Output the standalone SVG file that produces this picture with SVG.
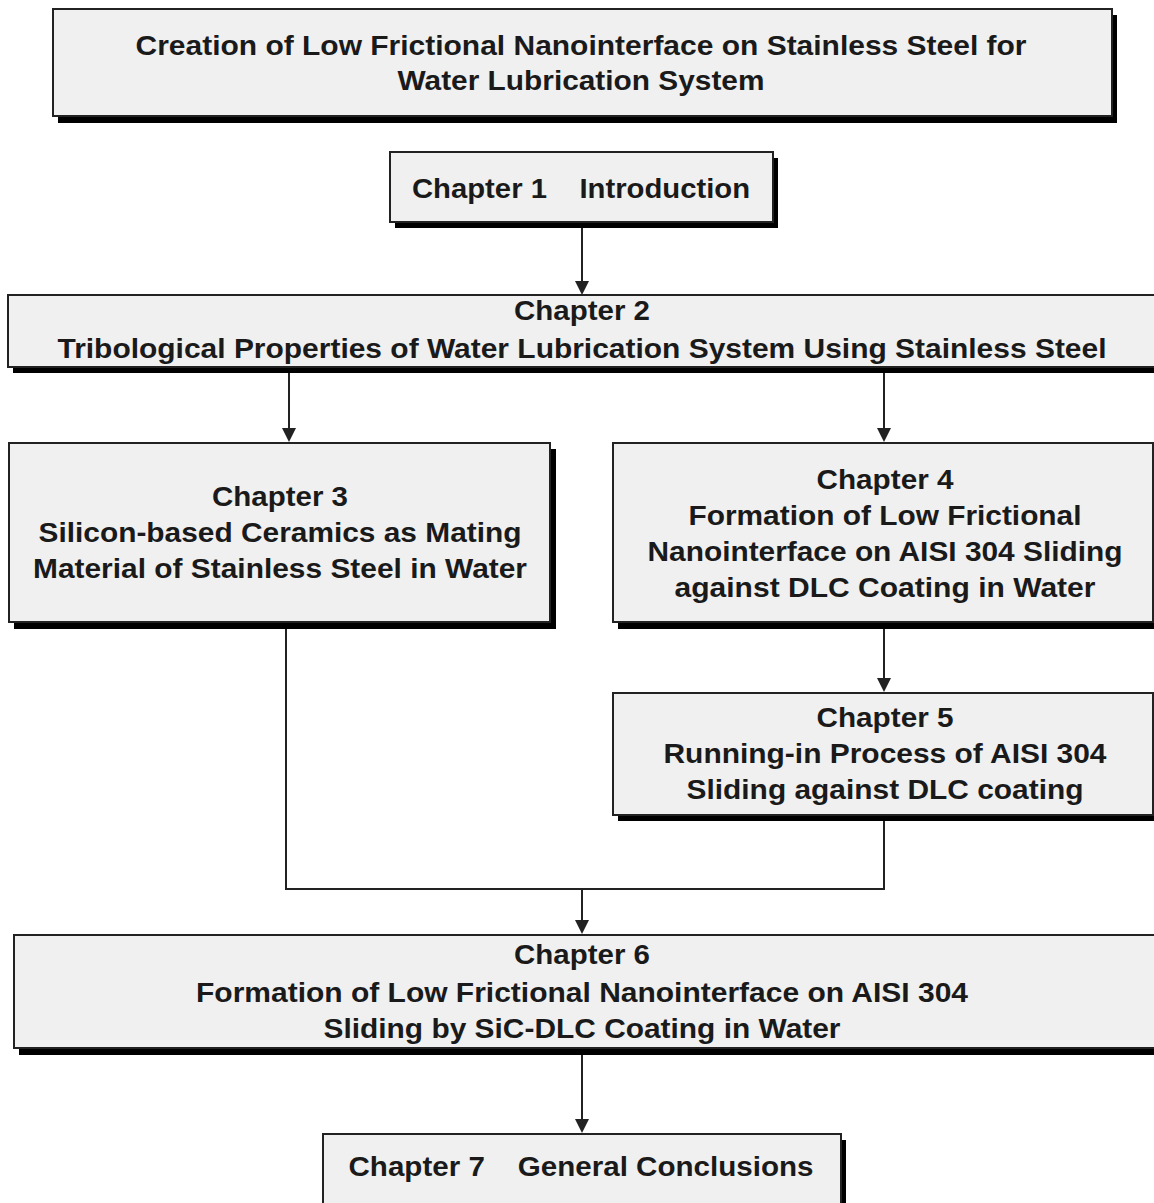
<svg xmlns="http://www.w3.org/2000/svg" width="1154" height="1203" viewBox="0 0 1154 1203">
<defs>
<style>
.sh{fill:#000}
.bx{fill:#f0f0f0;stroke:#222;stroke-width:2}
.t{font-family:"Liberation Sans",Arial,sans-serif;font-weight:bold;font-size:28px;fill:#1a1a1a;text-anchor:middle}
.c{fill:none;stroke:#222;stroke-width:2}
.a{fill:#222}
</style>
</defs>
<rect width="1154" height="1203" fill="#fff"/>
<g id="connectors">
<line class="c" x1="582" y1="223" x2="582" y2="282"/>
<path class="a" d="M575,281 L589,281 L582,295 Z"/>
<line class="c" x1="289" y1="368" x2="289" y2="429"/>
<path class="a" d="M282,428 L296,428 L289,442 Z"/>
<line class="c" x1="884" y1="368" x2="884" y2="429"/>
<path class="a" d="M877,428 L891,428 L884,442 Z"/>
<line class="c" x1="884" y1="623" x2="884" y2="679"/>
<path class="a" d="M877,678 L891,678 L884,692 Z"/>
<polyline class="c" points="286,623 286,889 884,889 884,815"/>
<line class="c" x1="582" y1="889" x2="582" y2="921"/>
<path class="a" d="M575,920 L589,920 L582,934 Z"/>
<line class="c" x1="582" y1="1049" x2="582" y2="1120"/>
<path class="a" d="M575,1119 L589,1119 L582,1133 Z"/>
</g>
<g id="title">
<rect class="sh" x="58" y="15" width="1059" height="108"/>
<rect class="bx" x="53" y="9" width="1059" height="107"/>
<text class="t" x="581" y="55" textLength="891" lengthAdjust="spacingAndGlyphs">Creation of Low Frictional Nanointerface on Stainless Steel for</text>
<text class="t" x="581" y="90" textLength="367" lengthAdjust="spacingAndGlyphs">Water Lubrication System</text>
</g>
<g id="ch1">
<rect class="sh" x="395" y="158" width="383" height="70"/>
<rect class="bx" x="390" y="152" width="383" height="70"/>
<text class="t" x="581" y="198" textLength="338" lengthAdjust="spacingAndGlyphs" xml:space="preserve">Chapter 1    Introduction</text>
</g>
<g id="ch2">
<rect class="sh" x="13" y="301" width="1160" height="72"/>
<rect class="bx" x="8" y="295" width="1160" height="72"/>
<text class="t" x="582" y="320" textLength="136" lengthAdjust="spacingAndGlyphs">Chapter 2</text>
<text class="t" x="582" y="358" textLength="1049" lengthAdjust="spacingAndGlyphs">Tribological Properties of Water Lubrication System Using Stainless Steel</text>
</g>
<g id="ch3">
<rect class="sh" x="14" y="449" width="542" height="180"/>
<rect class="bx" x="9" y="443" width="541" height="179"/>
<text class="t" x="280" y="506" textLength="136" lengthAdjust="spacingAndGlyphs">Chapter 3</text>
<text class="t" x="280" y="542" textLength="483" lengthAdjust="spacingAndGlyphs">Silicon-based Ceramics as Mating</text>
<text class="t" x="280" y="578" textLength="494" lengthAdjust="spacingAndGlyphs">Material of Stainless Steel in Water</text>
</g>
<g id="ch4">
<rect class="sh" x="618" y="449" width="545" height="180"/>
<rect class="bx" x="613" y="443" width="540" height="179"/>
<text class="t" x="885" y="489" textLength="137" lengthAdjust="spacingAndGlyphs">Chapter 4</text>
<text class="t" x="885" y="525" textLength="393" lengthAdjust="spacingAndGlyphs">Formation of Low Frictional</text>
<text class="t" x="885" y="561" textLength="475" lengthAdjust="spacingAndGlyphs">Nanointerface on AISI 304 Sliding</text>
<text class="t" x="885" y="597" textLength="421" lengthAdjust="spacingAndGlyphs">against DLC Coating in Water</text>
</g>
<g id="ch5">
<rect class="sh" x="618" y="699" width="545" height="122"/>
<rect class="bx" x="613" y="693" width="540" height="122"/>
<text class="t" x="885" y="727" textLength="137" lengthAdjust="spacingAndGlyphs">Chapter 5</text>
<text class="t" x="885" y="763" textLength="443" lengthAdjust="spacingAndGlyphs">Running-in Process of AISI 304</text>
<text class="t" x="885" y="799" textLength="397" lengthAdjust="spacingAndGlyphs">Sliding against DLC coating</text>
</g>
<g id="ch6">
<rect class="sh" x="19" y="941" width="1160" height="114"/>
<rect class="bx" x="14" y="935" width="1160" height="113"/>
<text class="t" x="582" y="964" textLength="136" lengthAdjust="spacingAndGlyphs">Chapter 6</text>
<text class="t" x="582" y="1002" textLength="772" lengthAdjust="spacingAndGlyphs">Formation of Low Frictional Nanointerface on AISI 304</text>
<text class="t" x="582" y="1038" textLength="517" lengthAdjust="spacingAndGlyphs">Sliding by SiC-DLC Coating in Water</text>
</g>
<g id="ch7">
<rect class="sh" x="328" y="1140" width="518" height="80"/>
<rect class="bx" x="323" y="1134" width="518" height="80"/>
<text class="t" x="581" y="1176" textLength="465" lengthAdjust="spacingAndGlyphs" xml:space="preserve">Chapter 7    General Conclusions</text>
</g>
</svg>
